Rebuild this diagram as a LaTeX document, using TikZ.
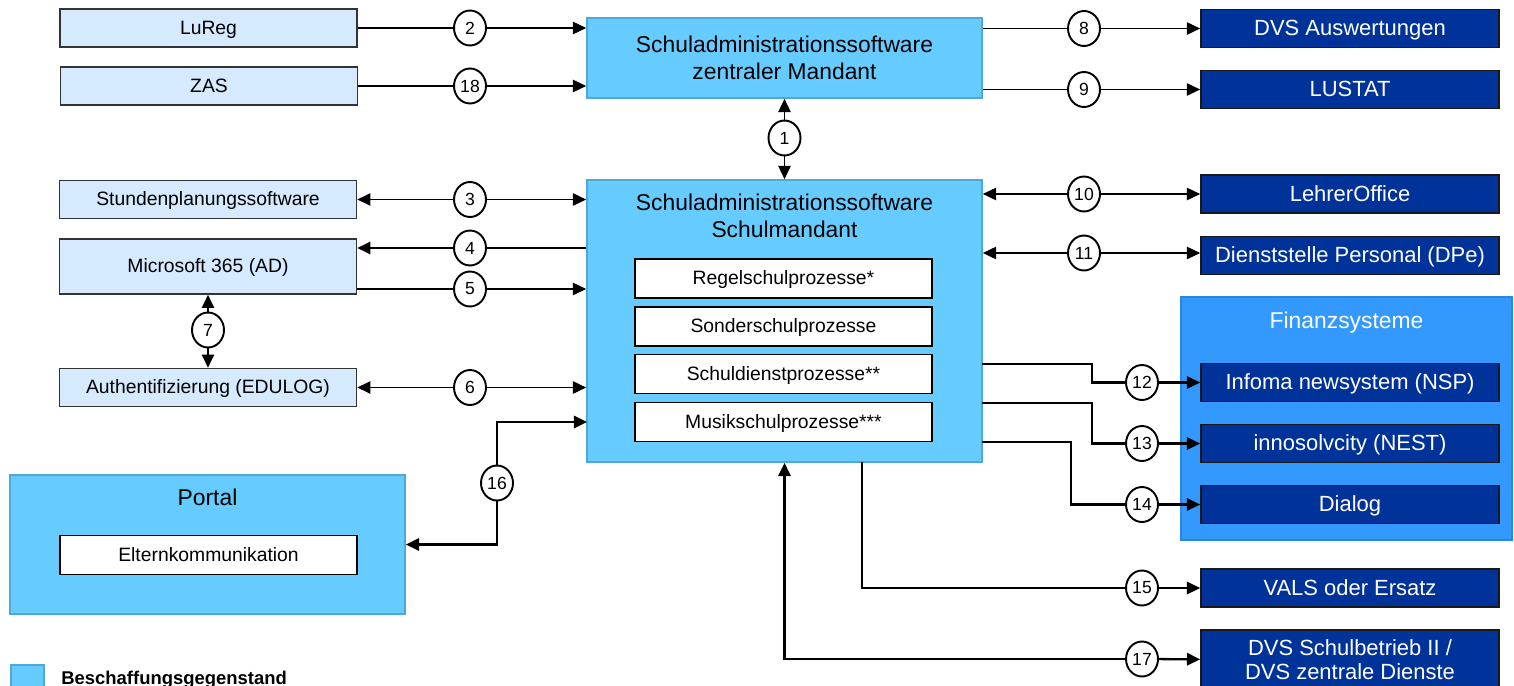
\documentclass[tikz,border=0pt]{standalone}
\usepackage{fontspec}
\setmainfont{Liberation Sans}
\usetikzlibrary{arrows.meta,shapes.geometric}
\definecolor{lightbox}{HTML}{D5EAFF}
\definecolor{midbox}{HTML}{66CCFF}
\definecolor{midline}{HTML}{4FA8D8}
\definecolor{finbox}{HTML}{3399FF}
\definecolor{finline}{HTML}{2B86DE}
\definecolor{darkbox}{HTML}{003399}
\tikzset{
  ext/.style={draw=black!80, line width=0.9pt, fill=lightbox, minimum width=5.94cm,
    minimum height=0.76cm, inner sep=0pt, text height=8pt, text depth=1pt,
    font=\fontsize{11}{13}\selectfont},
  sysbox/.style={draw=black!90, line width=1pt, fill=darkbox, text=white, minimum width=5.96cm,
    minimum height=0.76cm, inner sep=0pt, align=center, font=\fontsize{12.5}{13.5}\selectfont},
  sys/.style={sysbox, text height=9pt, text depth=1pt},
  proc/.style={draw=black, line width=1pt, fill=white, minimum width=5.94cm,
    minimum height=0.78cm, inner sep=0pt, text height=8pt, text depth=1pt,
    font=\fontsize{11}{13}\selectfont},
  core/.style={draw=midline, line width=1pt, fill=midbox, minimum width=7.9cm, inner sep=0pt},
  num/.style={ellipse, draw=black, line width=1.1pt, fill=white, minimum width=0.64cm,
    minimum height=0.7cm, inner sep=0pt, font=\fontsize{10}{12}\selectfont},
  link/.style={line width=0.8pt, >={Triangle[length=7.5pt,width=7pt]}},
  heavy/.style={link, line width=1.3pt},
}
\begin{document}
\begin{tikzpicture}[x=0.02cm, y=-0.02cm]
      \useasboundingbox (0,0) rectangle (1514,686);
      % left side
      \node (lureg) [ext] at (208.5,28) {LuReg};
      \node (zas) [ext] at (209,86) {ZAS};
      \node (stunden) [ext] at (208,199.5) {Stundenplanungssoftware};
      \node (msoft) [ext, minimum height=1.1cm] at (208,266.5) {Microsoft 365 (AD)};
      \node (auth) [ext] at (208,387.5) {Authentifizierung (EDULOG)};
      \node (portal) [core, minimum height=2.78cm] at (207.5,544.5) {};
      \node (portallbl) [font=\fontsize{13}{15}\selectfont] at (207.5,497) {Portal};
      \node (eltern) [proc] at (208.5,555) {Elternkommunikation};
      % centre
      \node (top) [core, minimum height=1.6cm, align=center, font=\fontsize{13}{15.3}\selectfont]
        at (784.5,58) {Schuladministrationssoftware\\zentraler Mandant};
      \node (main) [core, minimum height=5.64cm] at (784.5,321) {};
      \node (mainlbl) [align=center, font=\fontsize{13}{15}\selectfont]
        at (784.5,216) {Schuladministrationssoftware\\Schulmandant};
      \node (regel) [proc] at (783.5,278.5) {Regelschulprozesse*};
      \node (sonder) [proc] at (783.5,326.5) {Sonderschulprozesse};
      \node (sdienst) [proc] at (783.5,374) {Schuldienstprozesse**};
      \node (musik) [proc] at (783.5,422) {Musikschulprozesse***};
      % right side
      \node (dvsa) [sys] at (1350,28.5) {DVS Auswertungen};
      \node (lustat) [sys] at (1350,89.5) {LUSTAT};
      \node (lehrer) [sys] at (1350,194) {LehrerOffice};
      \node (dienst) [sys] at (1350,255.5) {Dienststelle Personal (DPe)};
      \node (finanz) [draw=finline, line width=1pt, fill=finbox, minimum width=6.62cm,
        minimum height=4.86cm, inner sep=0pt] at (1346.5,418.5) {};
      \node (finlbl) [text=white, font=\fontsize{13}{15}\selectfont] at (1346.5,323) {Finanzsysteme};
      \node (infoma) [sys] at (1350,382.5) {Infoma newsystem (NSP)};
      \node (innos) [sys] at (1350,443.5) {innosolvcity (NEST)};
      \node (dialog) [sys] at (1350,504.5) {Dialog};
      \node (vals) [sys] at (1350,588) {VALS oder Ersatz};
      \node (dvsz) [sysbox, minimum height=1.2cm] at (1350,660) {DVS Schulbetrieb II /\\DVS zentrale Dienste};
      % legend
      \node (legsq) [draw=midline, line width=1pt, fill=midbox, minimum width=0.66cm,
        minimum height=0.76cm, inner sep=0pt, anchor=north west] at (10,664) {};
      \node (legtxt) [anchor=base west, inner sep=0pt, font=\bfseries\fontsize{10.5}{12}\selectfont]
        at (61,684) {Beschaffungsgegenstand};
      % interface numbers
      \node (c1) [num] at (784.5,138) {1};
      \node (c2) [num] at (470,28) {2};
      \node (c3) [num] at (470,199.5) {3};
      \node (c4) [num] at (470,248) {4};
      \node (c5) [num] at (470,289) {5};
      \node (c6) [num] at (470,387.5) {6};
      \node (c7) [num] at (208,330) {7};
      \node (c8) [num] at (1084,28.5) {8};
      \node (c9) [num] at (1084,89.5) {9};
      \node (c10) [num] at (1084,194) {10};
      \node (c11) [num] at (1084,253) {11};
      \node (c12) [num] at (1142,382.5) {12};
      \node (c13) [num] at (1142,443.5) {13};
      \node (c14) [num] at (1142,504.5) {14};
      \node (c15) [num] at (1142,588) {15};
      \node (c16) [num] at (497,483) {16};
      \node (c17) [num] at (1142,659) {17};
      \node (c18) [num] at (470,86) {18};
      \coordinate (p12) at (982,364);
      \coordinate (k12) at (1092,382.5);
      \coordinate (p13) at (982,403);
      \coordinate (k13) at (1092,443.5);
      \coordinate (p14) at (982,442);
      \coordinate (k14) at (1071,504.5);
      \coordinate (p15) at (862,462);
      \coordinate (q16) at (587,422);
      \begin{scope}[link]
        \draw[<-] (top) -- (c1);
        \draw[->] (c1) -- (main);
        \draw[->] (lureg) -- (c2) -- (top.west |- c2);
        \draw[<-] (stunden) -- (c3);
        \draw[->] (c3) -- (main.west |- c3);
        \draw[->] (main.west |- c4) -- (c4) -- (msoft.east |- c4);
        \draw[->] (msoft.east |- c5) -- (c5) -- (main.west |- c5);
        \draw[<-] (auth) -- (c6);
        \draw[->] (c6) -- (main.west |- c6);
        \draw[<-] (msoft) -- (c7);
        \draw[->] (c7) -- (auth);
        \draw[->] (top.east |- c8) -- (c8) -- (dvsa);
        \draw[->] (top.east |- c9) -- (c9) -- (lustat);
        \draw[<-] (main.east |- c10) -- (c10);
        \draw[->] (c10) -- (lehrer);
        \draw[<-] (main.east |- c11) -- (c11);
        \draw[->] (c11) -- (dienst.west |- c11);
        \draw[->] (zas) -- (c18) -- (top.west |- c18);
      \end{scope}
      \begin{scope}[heavy]
        \draw[->] (p12) -| (k12) -- (c12) -- (infoma);
        \draw[->] (p13) -| (k13) -- (c13) -- (innos);
        \draw[->] (p14) -| (k14) -- (c14) -- (dialog);
        \draw[->] (p15) |- (c15) -- (vals);
        \draw[<-] (portal.east) -| (c16);
        \draw[->] (c16) |- (q16);
        \draw[<-] (main.south) |- (c17);
        \draw[->] (c17) -- (dvsz);
      \end{scope}
    \end{tikzpicture}
\end{document}
